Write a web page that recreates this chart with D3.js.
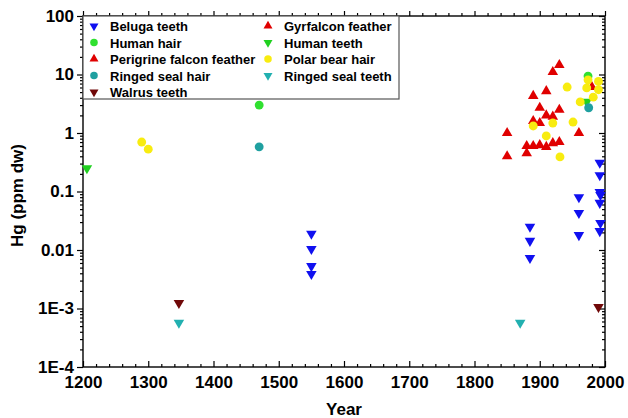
<!DOCTYPE html>
<html>
<head>
<meta charset="utf-8">
<script src="https://cdn.jsdelivr.net/npm/d3@7"></script>
<style>
body { margin: 0; background: #fff; }
text { font-family: "Liberation Sans", Arial, sans-serif; font-weight: bold; }
</style>
</head>
<body>
<div class="box"></div>
<script>
// Hg (ppm dw) per sample
const belugaYear = [1550, 1550, 1550, 1550, 1885, 1885, 1885, 1960, 1960, 1960, 1992, 1992, 1992, 1993, 1992, 1993, 1992];
const belugaHg   = [0.019, 0.0104, 0.0053, 0.0039, 0.025, 0.0143, 0.0073, 0.08, 0.043, 0.018, 0.31, 0.19, 0.098, 0.087, 0.064, 0.029, 0.021];

const gyrYear = [1890, 1900, 1910, 1920, 1900, 1890, 1910, 1920, 1930, 1930, 1980];
const gyrHg   = [1.6, 1.48, 2.0, 1.9, 2.7, 4.3, 5.2, 11, 14.5, 2.5, 6.1];

const humanHairYear = [1470, 1974];
const humanHairHg   = [3.0, 9.4];

const humanTeethYear = [1206, 1972];
const humanTeethHg   = [0.25, 3.4];

const perYear = [1850, 1850, 1880, 1890, 1900, 1910, 1880, 1920, 1930, 1960];
const perHg   = [1.0, 0.40, 0.60, 0.60, 0.62, 0.58, 0.45, 0.67, 0.70, 1.0];

const bearYear = [1290, 1300, 1942, 1990, 1972, 1990, 1982, 1962, 1974, 1951, 1890, 1920, 1910, 1931];
const bearHg   = [0.70, 0.53, 6.1, 7.6, 5.9, 5.5, 4.1, 3.4, 8.1, 1.54, 1.32, 1.48, 0.89, 0.39];

const sealHairYear = [1470, 1975];
const sealHairHg   = [0.58, 2.7];

const sealTeethYear = [1347, 1870];
const sealTeethHg   = [0.00057, 0.00057];

const walrusYear = [1347, 1990];
const walrusHg   = [0.00124, 0.00106];

const xTicks = [1200, 1300, 1400, 1500, 1600, 1700, 1800, 1900, 2000];
const yTicks = [100, 10, 1, 0.1, 0.01, 0.001, 0.0001];
const yTickLabels = ['100', '10', '1', '0.1', '0.01', '1E-3', '1E-4'];

const series = [
  {name: 'Beluga teeth',              years: belugaYear,     hg: belugaHg,     shape: 'down',   color: '#1010f0'},
  {name: 'Gyrfalcon feather',         years: gyrYear,        hg: gyrHg,        shape: 'up',     color: '#e00000'},
  {name: 'Human hair',                years: humanHairYear,  hg: humanHairHg,  shape: 'circle', color: '#30e030'},
  {name: 'Human teeth',               years: humanTeethYear, hg: humanTeethHg, shape: 'down',   color: '#20d020'},
  {name: 'Perigrine falcon feather',  years: perYear,        hg: perHg,        shape: 'up',     color: '#e00000'},
  {name: 'Polar bear hair',           years: bearYear,       hg: bearHg,       shape: 'circle', color: '#f8ec10'},
  {name: 'Ringed seal hair',          years: sealHairYear,   hg: sealHairHg,   shape: 'circle', color: '#1fa0a0'},
  {name: 'Ringed seal teeth',         years: sealTeethYear,  hg: sealTeethHg,  shape: 'down',   color: '#22b0b0'},
  {name: 'Walrus teeth',              years: walrusYear,     hg: walrusHg,     shape: 'down',   color: '#700808'}
];
// legend order (column-major in the figure)
const legendOrder = ['Beluga teeth', 'Human hair', 'Perigrine falcon feather', 'Ringed seal hair', 'Walrus teeth',
                     'Gyrfalcon feather', 'Human teeth', 'Polar bear hair', 'Ringed seal teeth'];

const svg = d3.select('.box')
              .append('svg')
              .attr('width', 628)
              .attr('height', 418);

const margin = {top: 16, right: 23, bottom: 51, left: 83};
const graphWidth = 628 - margin.left - margin.right;
const graphHeight = 418 - margin.top - margin.bottom;

const graph = svg.append('g')
                 .attr('transform', `translate(${margin.left}, ${margin.top})`);

const x = d3.scaleLinear().domain([1200, 2000]).range([0, graphWidth]);
const y = d3.scaleLog().domain([0.0001, 100]).range([graphHeight, 0]);

// minor ticks
const xMinor = d3.range(1200, 2001, 20).filter(v => v % 100 !== 0);
const yMinor = [];
for (let e = -4; e < 2; e++) for (let k = 2; k <= 9; k++) yMinor.push(k * Math.pow(10, e));

function styleAxis(g) {
  g.select('.domain').remove();
  g.selectAll('line').attr('stroke', '#000').attr('stroke-width', 1.2);
}

// left
graph.append('g').call(d3.axisLeft(y).tickValues(yTicks).tickSize(6).tickPadding(3)
     .tickFormat((d, i) => yTickLabels[i])).call(styleAxis)
     .selectAll('text').attr('font-size', 17).attr('fill', '#000');
graph.append('g').call(d3.axisLeft(y).tickValues(yMinor).tickSize(3).tickFormat('')).call(styleAxis);
// right (inward)
graph.append('g').attr('transform', `translate(${graphWidth},0)`)
     .call(d3.axisLeft(y).tickValues(yTicks).tickSize(6).tickFormat('')).call(styleAxis);
graph.append('g').attr('transform', `translate(${graphWidth},0)`)
     .call(d3.axisLeft(y).tickValues(yMinor).tickSize(3).tickFormat('')).call(styleAxis);
// bottom (inward)
graph.append('g').attr('transform', `translate(0, ${graphHeight})`)
     .call(d3.axisTop(x).tickValues(xTicks).tickSize(6).tickFormat('')).call(styleAxis);
graph.append('g').attr('transform', `translate(0, ${graphHeight})`)
     .call(d3.axisTop(x).tickValues(xMinor).tickSize(3).tickFormat('')).call(styleAxis);
graph.append('g').attr('transform', `translate(0, ${graphHeight})`)
     .call(d3.axisBottom(x).tickValues(xTicks).tickSize(0).tickPadding(9).tickFormat(d3.format('d'))).call(styleAxis)
     .selectAll('text').attr('font-size', 17).attr('fill', '#000');
// top (outward)
graph.append('g').call(d3.axisTop(x).tickValues(xTicks).tickSize(5).tickFormat('')).call(styleAxis);
graph.append('g').call(d3.axisTop(x).tickValues(xMinor).tickSize(3).tickFormat('')).call(styleAxis);

// frame
graph.append('rect').attr('width', graphWidth).attr('height', graphHeight)
     .attr('fill', 'none').attr('stroke', '#000').attr('stroke-width', 1.4);

// symbols
const tri = d3.symbol().type(d3.symbolTriangle).size(48);
const circ = d3.symbol().type(d3.symbolCircle).size(62);
function drawMarker(sel, shape) {
  sel.attr('d', shape === 'circle' ? circ() : tri());
}

series.forEach(s => {
  const pts = s.years.map((yr, i) => ({yr, v: s.hg[i]}));
  graph.selectAll(null).data(pts).enter()
       .append('path')
       .call(drawMarker, s.shape)
       .attr('transform', d => `translate(${x(d.yr)},${y(d.v)}) rotate(${s.shape === 'down' ? 180 : 0})`)
       .attr('fill', s.color);
});

// legend
const legend = graph.append('g');
legend.append('rect').attr('x', 0).attr('y', 0).attr('width', 316).attr('height', 83)
      .attr('fill', '#fff').attr('stroke', '#555').attr('stroke-width', 1.2);
legendOrder.forEach((name, i) => {
  const s = series.find(d => d.name === name);
  const col = Math.floor(i / 5), row = i % 5;
  const lx = col === 0 ? 11 : 185;
  const ly = 10 + row * 16.5;
  legend.append('path').call(drawMarker, s.shape)
        .attr('transform', `translate(${lx},${ly}) rotate(${s.shape === 'down' ? 180 : 0}) scale(0.85)`)
        .attr('fill', s.color);
  legend.append('text').attr('x', lx + 16).attr('y', ly + 5)
        .attr('font-size', 13).text(name);
});

// axis titles
svg.append('text').attr('x', margin.left + graphWidth / 2).attr('y', 415)
   .attr('text-anchor', 'middle').attr('font-size', 17).text('Year');
svg.append('text').attr('transform', `translate(23, ${margin.top + graphHeight / 2 + 4}) rotate(-90)`)
   .attr('text-anchor', 'middle').attr('font-size', 17).text('Hg (ppm dw)');
</script>
</body>
</html>
